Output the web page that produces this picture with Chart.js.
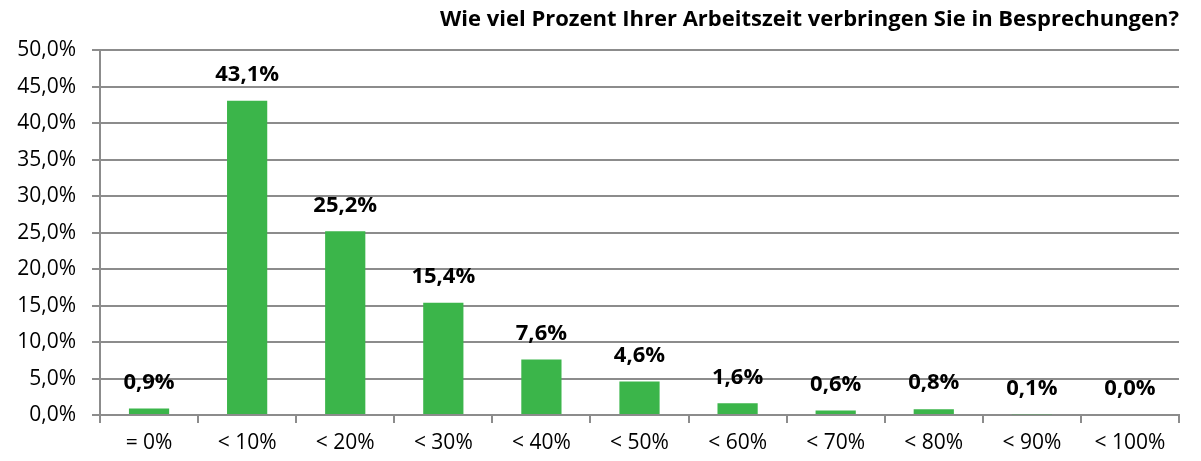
<!DOCTYPE html>
<html>
<head>
<meta charset="utf-8">
<script src="https://cdn.jsdelivr.net/npm/chart.js@4/dist/chart.umd.min.js"></script>
<style>
    html, body { margin: 0; padding: 0; background: #ffffff; }
    #wrap { width: 1201px; height: 461px; }
</style>
</head>
<body>
<div id="wrap"><canvas id="meetingChart" width="1201" height="461"></canvas></div>
<script>
const categories = ['= 0%', '< 10%', '< 20%', '< 30%', '< 40%', '< 50%', '< 60%', '< 70%', '< 80%', '< 90%', '< 100%'];
const shares = [0.9, 43.1, 25.2, 15.4, 7.6, 4.6, 1.6, 0.6, 0.8, 0.1, 0.0];
const yTicks = [0, 5, 10, 15, 20, 25, 30, 35, 40, 45, 50];

const fmt = (v) => v.toFixed(1).replace('.', ',') + '%';
const fontFamily = '"Open Sans", Lato, sans-serif';

const valueLabels = {
    id: 'valueLabels',
    afterDatasetsDraw(chart) {
        const ctx = chart.ctx;
        const meta = chart.getDatasetMeta(0);
        ctx.save();
        ctx.font = `bold 22px ${fontFamily}`;
        ctx.fillStyle = '#000000';
        ctx.textAlign = 'center';
        ctx.textBaseline = 'middle';
        meta.data.forEach((bar, i) => {
            ctx.fillText(fmt(shares[i]), bar.x, bar.y - 26);
        });
        ctx.restore();
    }
};

new Chart(document.getElementById('meetingChart'), {
    type: 'bar',
    data: {
        labels: categories,
        datasets: [{
            data: shares,
            backgroundColor: '#3bb54a',
            borderWidth: 0,
            barPercentage: 0.41,
            categoryPercentage: 1.0,
        }],
    },
    plugins: [valueLabels],
    options: {
        responsive: false,
        animation: false,
        layout: {
            padding: { left: 0, right: 22, top: 0, bottom: 0 },
        },
        plugins: {
            legend: { display: false },
            tooltip: { enabled: false },
            title: {
                display: true,
                text: 'Wie viel Prozent Ihrer Arbeitszeit verbringen Sie in Besprechungen?',
                align: 'end',
                color: '#000000',
                font: { family: fontFamily, size: 22, weight: 'bold' },
                padding: { top: 7, bottom: 17 },
            },
        },
        scales: {
            x: {
                grid: {
                    offset: true,
                    drawOnChartArea: false,
                    color: '#8c8c8c',
                    lineWidth: 2,
                    tickLength: 8,
                },
                border: { color: '#8c8c8c', width: 2 },
                ticks: {
                    color: '#000000',
                    font: { family: fontFamily, size: 21 },
                    padding: 7,
                    maxRotation: 0,
                    autoSkip: false,
                },
                afterFit: (scale) => { scale.height = 46; },
            },
            y: {
                min: 0,
                max: 50,
                afterBuildTicks: (scale) => { scale.ticks = yTicks.map((v) => ({ value: v })); },
                grid: {
                    color: '#8c8c8c',
                    lineWidth: 2,
                    tickLength: 8,
                },
                border: { color: '#8c8c8c', width: 2 },
                ticks: {
                    color: '#000000',
                    font: { family: fontFamily, size: 21 },
                    padding: 16,
                    callback: (value) => fmt(value),
                },
                afterFit: (scale) => { scale.width = 100; },
            },
        },
    },
});
</script>
</body>
</html>
